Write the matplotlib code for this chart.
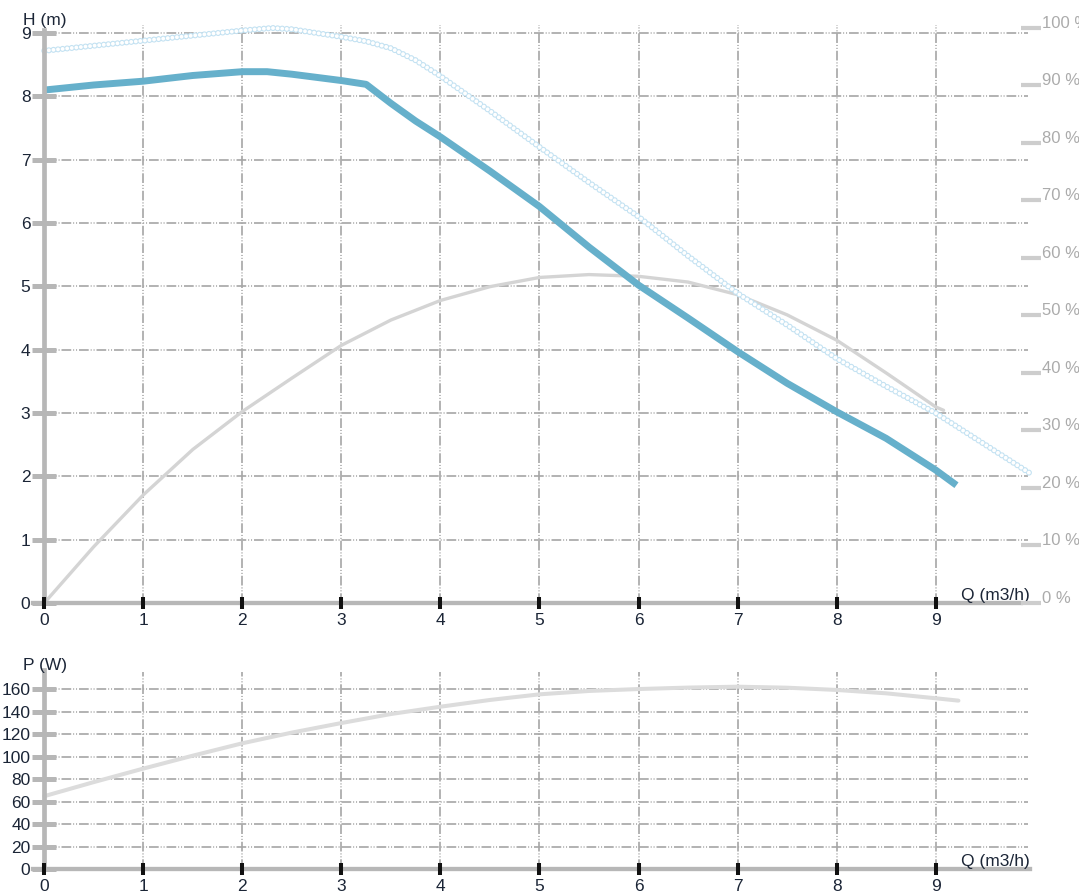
import matplotlib
matplotlib.use('Agg')
import matplotlib.pyplot as plt

plt.rcParams['font.family'] = ['Liberation Sans', 'DejaVu Sans']
plt.rcParams['lines.scale_dashes'] = False

# ---------------- data ----------------
q_head = [0, 0.5, 1, 1.5, 2, 2.25, 2.5, 3, 3.25, 3.5, 3.75, 4, 4.5, 5, 5.5,
          6, 6.5, 7, 7.5, 8, 8.5, 9, 9.21]
head_m = [8.10, 8.18, 8.24, 8.33, 8.39, 8.39, 8.35, 8.25, 8.19, 7.89, 7.61,
          7.36, 6.82, 6.26, 5.62, 5.02, 4.50, 3.97, 3.47, 3.02, 2.60, 2.10, 1.86]

q_max = [0, 0.5, 1, 1.5, 2, 2.3, 2.5, 3, 3.25, 3.5, 3.75, 4, 4.5, 5, 5.5, 6,
         6.5, 7, 7.5, 8, 8.5, 9, 9.5, 9.98]
head_max = [8.72, 8.80, 8.88, 8.96, 9.04, 9.08, 9.06, 8.94, 8.87, 8.76, 8.57,
            8.32, 7.77, 7.20, 6.64, 6.10, 5.48, 4.89, 4.39, 3.86, 3.42, 3.00,
            2.50, 2.02]

q_eff = [0, 0.5, 1, 1.5, 2, 2.5, 3, 3.5, 4, 4.5, 5, 5.5, 6, 6.5, 7, 7.5, 8,
         8.5, 9, 9.08]
eff_pct = [0, 9.8, 18.8, 26.7, 33.3, 39.1, 44.8, 49.2, 52.6, 55.0, 56.6, 57.1,
           56.8, 55.8, 53.6, 50.1, 45.7, 40.0, 34.1, 33.5]

q_pow = [0, 0.5, 1, 1.5, 2, 2.5, 3, 3.5, 4, 4.5, 5, 5.5, 6, 6.5, 7, 7.5, 8,
         8.5, 9, 9.23]
power_w = [65, 77.5, 89.5, 101, 112, 121.5, 130, 138, 144.5, 150.5, 155.5,
           158.5, 160.2, 161.5, 162.3, 161.4, 159.4, 156.4, 152, 149.9]

q_ticks = [0, 1, 2, 3, 4, 5, 6, 7, 8, 9]
h_ticks = [0, 1, 2, 3, 4, 5, 6, 7, 8, 9]
p_ticks = [0, 20, 40, 60, 80, 100, 120, 140, 160]
pct_ticks = [0, 10, 20, 30, 40, 50, 60, 70, 80, 90, 100]
pct_labels = [f"{v} %" for v in pct_ticks]

# ---------------- style ----------------
W, H = 1079, 894
TXT = '#1b2536'
GRID = '#a6a6a6'
AXC = '#b7b7b7'
grid_dash = (0, (7, 1.4, 0.7, 1.4, 0.7, 1.4))
FS = 12.5
XMIN, XMAX = -0.114, 10.104

fig = plt.figure(figsize=(W / 100, H / 100), dpi=100)
ax = fig.add_axes([33 / W, (H - 603) / H, 1012 / W, 593 / H])
axp = fig.add_axes([33 / W, (H - 869.3) / H, 1012 / W, 219.3 / H])


def style_axes(a, yticks, ytop, spine_right, vgrid_top):
    a.set_xlim(XMIN, XMAX)
    a.set_facecolor('none')
    for s in ['top', 'right']:
        a.spines[s].set_visible(False)
    a.spines['left'].set_position(('data', 0))
    a.spines['left'].set_bounds(0, ytop)
    a.spines['left'].set_color(AXC)
    a.spines['left'].set_linewidth(3.4)
    a.spines['left'].set_zorder(5)
    a.spines['bottom'].set_bounds(XMIN, spine_right)
    a.spines['bottom'].set_color(AXC)
    a.spines['bottom'].set_linewidth(3.1)
    a.spines['bottom'].set_zorder(5)
    a.xaxis.set_zorder(6)
    a.set_xticks(q_ticks)
    a.set_xticklabels([str(v) for v in q_ticks])
    a.set_yticks(yticks)
    a.set_yticklabels([str(v) for v in yticks])
    a.tick_params(axis='x', direction='inout', length=9, width=2.9,
                  color='#111111', pad=2.5, labelsize=FS, labelcolor=TXT)
    a.tick_params(axis='y', direction='inout', length=17, width=3.6,
                  color=AXC, pad=1.5, labelsize=FS, labelcolor=TXT)
    a.hlines(yticks[1:], 0, 9.93, colors=GRID, linewidth=1.2,
             linestyles=[grid_dash], zorder=1)
    a.vlines(q_ticks[1:], 0, vgrid_top, colors=GRID, linewidth=1.2,
             linestyles=[grid_dash], zorder=1)


# ---------------- top chart ----------------
ax.set_ylim(0, 9.364)
style_axes(ax, h_ticks, 9.05, 9.86, 9.13)

ax2 = ax.twinx()
ax2.set_ylim(0, 103.1)
for s in ax2.spines.values():
    s.set_visible(False)
ax2.spines['right'].set_position(('data', 9.963))
ax2.set_yticks(pct_ticks)
ax2.set_yticklabels(pct_labels)
ax2.tick_params(axis='y', direction='inout', length=15, width=3.0,
                color='#cdcdcd', pad=0.5, labelsize=FS - 0.5,
                labelcolor='#ababab')
for lbl in ax2.get_yticklabels():
    lbl.set_va('baseline')
ax2.set_xlim(XMIN, XMAX)

# efficiency curve (percent scale), drawn in the main axes for stacking
ax.plot(q_eff, eff_pct, transform=ax2.transData, color='#d4d4d4',
        linewidth=2.4, solid_capstyle='round', zorder=2)

# max curve as chain of small rings
ax.plot(q_max, head_max, color='#c4e2f2', linewidth=4.4,
        linestyle=(0, (0.01, 3.3)), dash_capstyle='round', zorder=3)
ax.plot(q_max, head_max, color='white', linewidth=2.8,
        linestyle=(0, (0.01, 3.3)), dash_capstyle='round', zorder=3)

# head curve
ax.plot(q_head, head_m, color='#66b0cb', linewidth=5.0,
        solid_capstyle='butt', solid_joinstyle='round', zorder=4)

ax.text(0.007, 9.2, 'H (m)', ha='center', va='center', fontsize=FS,
        color=TXT, zorder=6)
ax.text(9.95, 0.118, 'Q (m3/h)', ha='right', va='center', fontsize=FS,
        color=TXT, zorder=6)

# ---------------- bottom chart ----------------
axp.set_ylim(0, 194.9)
style_axes(axp, p_ticks, 177, 9.955, 175.6)
axp.plot(q_pow, power_w, color='#dcdcdc', linewidth=2.9,
         solid_capstyle='round', zorder=2)
axp.text(0.007, 181.2, 'P (W)', ha='center', va='center', fontsize=FS,
         color=TXT, zorder=6)
axp.text(9.95, 6.9, 'Q (m3/h)', ha='right', va='center', fontsize=FS,
         color=TXT, zorder=6)

fig.savefig('out.png', dpi=100)
